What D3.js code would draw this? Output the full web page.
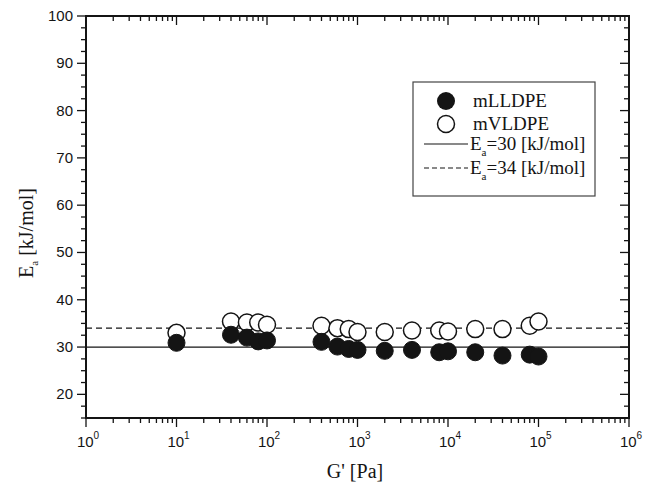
<!DOCTYPE html>
<html lang="en">
<head>
<meta charset="utf-8">
<title>Ea vs G'</title>
<script src="https://cdn.jsdelivr.net/npm/d3@7"></script>
<style>
  body { margin: 0; background: #fff; }
  svg { display: block; }
</style>
</head>
<body>
<script>
// storage modulus G' [Pa] for each measured point
var gPrime = [10, 40, 60, 80, 100, 400, 600, 800, 1000, 2000, 4000, 8000, 10000, 20000, 40000, 80000, 100000];
// activation energy [kJ/mol]
var mLLDPE = [30.9, 32.6, 32.0, 31.2, 31.4, 31.1, 30.1, 29.6, 29.4, 29.2, 29.4, 28.9, 29.1, 28.9, 28.2, 28.4, 28.0];
var mVLDPE = [33.0, 35.4, 35.2, 35.2, 34.7, 34.5, 34.0, 33.8, 33.2, 33.2, 33.5, 33.5, 33.3, 33.8, 33.8, 34.5, 35.4];
var refLines = [30, 34];
var yTicks = [20, 30, 40, 50, 60, 70, 80, 90, 100];
var xDecades = [0, 1, 2, 3, 4, 5, 6];

var W = 651, H = 483;
// plot box (note: "top" is a reserved window property, so use p*)
var pLeft = 86, pRight = 629, pTop = 16, pBottom = 418;

var svg = d3.select("body").append("svg")
  .attr("width", W).attr("height", H);

var x = d3.scaleLog().domain([1, 1e6]).range([pLeft, pRight]);
var y = d3.scaleLinear().domain([15, 100]).range([pBottom, pTop]);

var ink = "#141414";

// minor ticks on the log axis
var xMinor = [];
for (var d = 0; d < 6; d++) {
  for (var m = 2; m <= 9; m++) xMinor.push(m * Math.pow(10, d));
}
var yMinor = d3.range(15, 100.1, 2.5).filter(function (v) { return v % 10 !== 0; });

var axes = svg.append("g").attr("stroke", ink).attr("stroke-width", 1.3);

// bottom (out) and top (in) ticks
xDecades.forEach(function (e) {
  var px = x(Math.pow(10, e));
  axes.append("line").attr("x1", px).attr("x2", px).attr("y1", pBottom).attr("y2", pBottom + 9);
  axes.append("line").attr("x1", px).attr("x2", px).attr("y1", pTop).attr("y2", pTop + 9);
});
xMinor.forEach(function (v) {
  var px = x(v);
  axes.append("line").attr("x1", px).attr("x2", px).attr("y1", pBottom).attr("y2", pBottom + 5);
  axes.append("line").attr("x1", px).attr("x2", px).attr("y1", pTop).attr("y2", pTop + 5);
});

// left (out) and right (in) ticks
yTicks.forEach(function (v) {
  var py = y(v);
  axes.append("line").attr("x1", pLeft - 9).attr("x2", pLeft).attr("y1", py).attr("y2", py);
  axes.append("line").attr("x1", pRight - 9).attr("x2", pRight).attr("y1", py).attr("y2", py);
});
yMinor.forEach(function (v) {
  var py = y(v);
  axes.append("line").attr("x1", pLeft - 5).attr("x2", pLeft).attr("y1", py).attr("y2", py);
  axes.append("line").attr("x1", pRight - 5).attr("x2", pRight).attr("y1", py).attr("y2", py);
});

// frame
svg.append("rect")
  .attr("x", pLeft).attr("y", pTop)
  .attr("width", pRight - pLeft).attr("height", pBottom - pTop)
  .attr("fill", "none").attr("stroke", ink).attr("stroke-width", 2);

// tick labels
var lab = svg.append("g")
  .style("font-family", "'Liberation Sans', Arial, sans-serif")
  .style("font-size", "15px").attr("fill", ink);

yTicks.forEach(function (v) {
  lab.append("text").attr("x", pLeft - 13).attr("y", y(v) + 5)
    .attr("text-anchor", "end").text(v);
});
xDecades.forEach(function (e) {
  var t = lab.append("text").attr("x", x(Math.pow(10, e)) + 2).attr("y", pBottom + 29)
    .attr("text-anchor", "middle");
  t.append("tspan").text("10");
  t.append("tspan").attr("dy", -8).style("font-size", "10px").text(e);
});

// axis titles
var serif = "'Liberation Serif', 'Times New Roman', serif";
svg.append("text")
  .attr("x", 355).attr("y", 478)
  .attr("text-anchor", "middle")
  .style("font-family", serif).style("font-size", "20px").attr("fill", ink)
  .text("G' [Pa]");

var yt = svg.append("text")
  .attr("transform", "translate(33,233) rotate(-90)")
  .attr("text-anchor", "middle")
  .style("font-family", serif).style("font-size", "20px").attr("fill", ink);
yt.append("tspan").text("E");
yt.append("tspan").attr("dy", 5).style("font-size", "11px").text("a");
yt.append("tspan").attr("dy", -5).text(" [kJ/mol]");

// reference lines
svg.selectAll("line.ref").data(refLines).enter().append("line")
  .attr("class", "ref")
  .attr("x1", pLeft).attr("x2", pRight)
  .attr("y1", function (d) { return y(d); })
  .attr("y2", function (d) { return y(d); })
  .attr("stroke", ink).attr("stroke-width", 1.2)
  .attr("stroke-dasharray", function (d, i) { return i === 0 ? null : "6,4"; });

// data points
var r = 8.5;
svg.append("g").selectAll("circle").data(gPrime).enter().append("circle")
  .attr("cx", function (d) { return x(d); })
  .attr("cy", function (d, i) { return y(mVLDPE[i]); })
  .attr("r", r).attr("fill", "#fff").attr("stroke", ink).attr("stroke-width", 1.5);

svg.append("g").selectAll("circle").data(gPrime).enter().append("circle")
  .attr("cx", function (d) { return x(d); })
  .attr("cy", function (d, i) { return y(mLLDPE[i]); })
  .attr("r", r).attr("fill", ink).attr("stroke", ink).attr("stroke-width", 1);

// legend
var lg = svg.append("g");
lg.append("rect").attr("x", 413).attr("y", 82).attr("width", 182).attr("height", 114)
  .attr("fill", "#fff").attr("stroke", "#444").attr("stroke-width", 1.2);

var lt = function (yy) {
  return lg.append("text").attr("x", 473).attr("y", yy)
    .style("font-family", serif).style("font-size", "19px").attr("fill", ink);
};
lg.append("circle").attr("cx", 446).attr("cy", 101).attr("r", 9).attr("fill", ink);
lt(107).text("mLLDPE");
lg.append("circle").attr("cx", 446).attr("cy", 124).attr("r", 8.5)
  .attr("fill", "#fff").attr("stroke", ink).attr("stroke-width", 1.5);
lt(130).text("mVLDPE");

refLines.forEach(function (v, i) {
  var yy = 144 + i * 24;
  lg.append("line").attr("x1", 424).attr("x2", 468).attr("y1", yy).attr("y2", yy)
    .attr("stroke", ink).attr("stroke-width", 1.2)
    .attr("stroke-dasharray", i === 0 ? null : "5,3");
  var t = lt(yy + 6).attr("x", 470);
  t.append("tspan").text("E");
  t.append("tspan").attr("dy", 6).style("font-size", "11px").text("a");
  t.append("tspan").attr("dy", -6).text("=" + v + " [kJ/mol]");
});
</script>
</body>
</html>
